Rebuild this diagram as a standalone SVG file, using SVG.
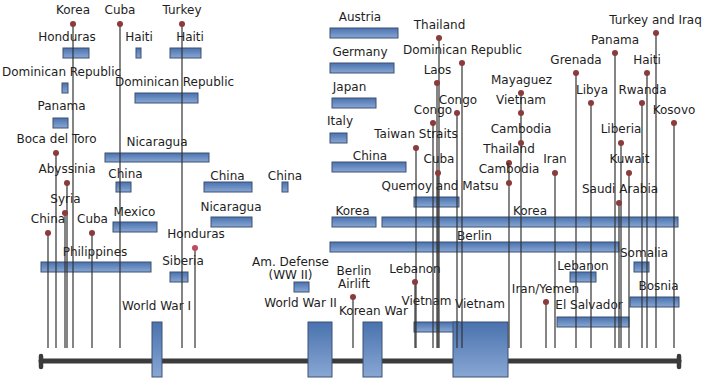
<svg xmlns="http://www.w3.org/2000/svg" width="710" height="386" viewBox="0 0 710 386">
<defs>
<linearGradient id="g" x1="0" y1="0" x2="0" y2="1">
<stop offset="0" stop-color="#4a72ae"/>
<stop offset="1" stop-color="#88a7d4"/>
</linearGradient>
<style>
.bar{fill:url(#g);stroke:#3d5170;stroke-width:1}
.lbl{font-family:"DejaVu Sans",sans-serif;font-size:12px;fill:#1e1e1e;text-anchor:middle}
.dot{fill:#8a3b3b}
.pin{stroke:#333;stroke-width:1.2;fill:none}
.axis{stroke:#3b3b3b;stroke-linecap:round;fill:none}
</style>
</defs>
<rect width="710" height="386" fill="#fff"/>

<g id="axis">
<line class="axis" x1="41" y1="361" x2="679" y2="361" stroke-width="5"/>
<line class="axis" x1="41" y1="356" x2="41" y2="367" stroke-width="4.5"/>
<line class="axis" x1="679" y1="356" x2="679" y2="367" stroke-width="4.5"/>
</g>

<!-- bars -->
<g id="b-honduras"><rect class="bar" x="63" y="48" width="26" height="10"/><text class="lbl" x="67" y="41">Honduras</text></g>
<g id="b-haiti1"><rect class="bar" x="136" y="48" width="5" height="10"/><text class="lbl" x="139" y="41">Haiti</text></g>
<g id="b-haiti2"><rect class="bar" x="170" y="48" width="31" height="10"/><text class="lbl" x="190" y="41">Haiti</text></g>
<g id="b-domrep1"><rect class="bar" x="62" y="83" width="6" height="10"/><text class="lbl" x="61.5" y="76">Dominican Republic</text></g>
<g id="b-domrep2"><rect class="bar" x="135" y="93" width="63" height="10"/><text class="lbl" x="174.5" y="86">Dominican Republic</text></g>
<g id="b-panama"><rect class="bar" x="53" y="118" width="15" height="10"/><text class="lbl" x="61.5" y="110">Panama</text></g>
<g id="b-nicaragua1"><rect class="bar" x="105" y="153" width="104" height="9"/><text class="lbl" x="157" y="146">Nicaragua</text></g>
<g id="b-china1"><rect class="bar" x="116" y="182" width="15" height="10"/><text class="lbl" x="125.5" y="178">China</text></g>
<g id="b-mexico"><rect class="bar" x="113" y="222" width="44" height="10"/><text class="lbl" x="134.5" y="216">Mexico</text></g>
<g id="b-philippines"><rect class="bar" x="41" y="262" width="110" height="10"/><text class="lbl" x="95" y="256">Philippines</text></g>
<g id="b-siberia"><rect class="bar" x="170" y="272" width="18" height="10"/><text class="lbl" x="183" y="265">Siberia</text></g>
<g id="b-ww1"><rect class="bar" x="152" y="322" width="10" height="55"/><text class="lbl" x="156.5" y="310">World War I</text></g>
<g id="b-china2"><rect class="bar" x="204" y="182" width="48" height="10"/><text class="lbl" x="227.5" y="180">China</text></g>
<g id="b-china3"><rect class="bar" x="282" y="182" width="6" height="10"/><text class="lbl" x="285" y="180">China</text></g>
<g id="b-nicaragua2"><rect class="bar" x="211" y="217" width="41" height="10"/><text class="lbl" x="231" y="211">Nicaragua</text></g>
<g id="b-amdefense"><rect class="bar" x="294" y="282" width="15" height="10"/><text class="lbl" x="290.5" y="266">Am. Defense</text><text class="lbl" x="290.5" y="279">(WW II)</text></g>
<g id="b-ww2"><rect class="bar" x="308" y="322" width="24" height="55"/><text class="lbl" x="300.5" y="307">World War II</text></g>
<g id="b-austria"><rect class="bar" x="330" y="28" width="68" height="10"/><text class="lbl" x="360" y="21">Austria</text></g>
<g id="b-germany"><rect class="bar" x="330" y="63" width="64" height="10"/><text class="lbl" x="360" y="56">Germany</text></g>
<g id="b-japan"><rect class="bar" x="332" y="98" width="44" height="10"/><text class="lbl" x="349.5" y="91">Japan</text></g>
<g id="b-italy"><rect class="bar" x="330" y="133" width="17" height="10"/><text class="lbl" x="340" y="125">Italy</text></g>
<g id="b-china4"><rect class="bar" x="332" y="162" width="74" height="10"/><text class="lbl" x="370" y="160">China</text></g>
<g id="b-korea1"><rect class="bar" x="332" y="217" width="44" height="10"/><text class="lbl" x="352.5" y="215">Korea</text></g>
<g id="b-quemoy"><rect class="bar" x="414" y="197" width="45" height="10"/><text class="lbl" x="440" y="190">Quemoy and Matsu</text></g>
<g id="b-korea2"><rect class="bar" x="382" y="217" width="296" height="10"/><text class="lbl" x="530" y="215">Korea</text></g>
<g id="b-berlin"><rect class="bar" x="330" y="242" width="289" height="10"/><text class="lbl" x="474.5" y="240">Berlin</text></g>
<g id="b-koreanwar"><rect class="bar" x="363" y="322" width="19" height="55"/><text class="lbl" x="373.5" y="315">Korean War</text></g>
<g id="b-vietnam1"><rect class="bar" x="414" y="322" width="45" height="10"/><text class="lbl" x="426.5" y="305">Vietnam</text></g>
<g id="b-vietnam2"><rect class="bar" x="453" y="322" width="55" height="55"/><text class="lbl" x="480" y="308">Vietnam</text></g>
<g id="b-somalia"><rect class="bar" x="634" y="262" width="15" height="10"/><text class="lbl" x="644" y="257">Somalia</text></g>
<g id="b-lebanon"><rect class="bar" x="570" y="272" width="26" height="10"/><text class="lbl" x="583" y="270">Lebanon</text></g>
<g id="b-bosnia"><rect class="bar" x="630" y="297" width="49" height="10"/><text class="lbl" x="658.5" y="290">Bosnia</text></g>
<g id="b-elsalvador"><rect class="bar" x="557" y="317" width="72" height="10"/><text class="lbl" x="589" y="309">El Salvador</text></g>

<!-- connectors (pin lines) -->
<g id="connectors" class="pin">
<line x1="73" y1="24" x2="73" y2="348"/>
<line x1="120" y1="24" x2="120" y2="348"/>
<line x1="182" y1="24" x2="182" y2="348"/>
<line x1="56" y1="153" x2="56" y2="348"/>
<line x1="67" y1="183" x2="67" y2="348"/>
<line x1="65" y1="213" x2="65" y2="348"/>
<line x1="48" y1="233" x2="48" y2="348"/>
<line x1="92" y1="233" x2="92" y2="348"/>
<line x1="195" y1="248" x2="195" y2="348"/>
<line x1="353" y1="297" x2="353" y2="348"/>
<line x1="415" y1="282" x2="415" y2="348"/>
<line x1="439" y1="38" x2="439" y2="348"/>
<line x1="462" y1="63" x2="462" y2="348"/>
<line x1="437" y1="83" x2="437" y2="348"/>
<line x1="457" y1="113" x2="457" y2="348"/>
<line x1="433" y1="123" x2="433" y2="348"/>
<line x1="521" y1="93" x2="521" y2="348"/>
<line x1="416" y1="148" x2="416" y2="348"/>
<line x1="438" y1="173" x2="438" y2="348"/>
<line x1="509" y1="163" x2="509" y2="348"/>
<line x1="555" y1="173" x2="555" y2="348"/>
<line x1="576" y1="73" x2="576" y2="348"/>
<line x1="615" y1="53" x2="615" y2="348"/>
<line x1="656" y1="33" x2="656" y2="348"/>
<line x1="591" y1="103" x2="591" y2="348"/>
<line x1="642" y1="103" x2="642" y2="348"/>
<line x1="647" y1="73" x2="647" y2="348"/>
<line x1="674" y1="123" x2="674" y2="348"/>
<line x1="621" y1="143" x2="621" y2="348"/>
<line x1="629" y1="173" x2="629" y2="348"/>
<line x1="619" y1="203" x2="619" y2="348"/>
<line x1="546" y1="302" x2="546" y2="348"/>
</g>

<!-- pin nodes -->
<g id="p-korea"><circle class="dot" cx="73" cy="24" r="3"/><text class="lbl" x="73" y="14">Korea</text></g>
<g id="p-cuba1"><circle class="dot" cx="120" cy="24" r="3"/><text class="lbl" x="120" y="14">Cuba</text></g>
<g id="p-turkey"><circle class="dot" cx="182" cy="24" r="3"/><text class="lbl" x="182" y="14">Turkey</text></g>
<g id="p-boca"><circle class="dot" cx="56" cy="153" r="3"/><text class="lbl" x="56.5" y="143">Boca del Toro</text></g>
<g id="p-abyssinia"><circle class="dot" cx="67" cy="183" r="3"/><text class="lbl" x="67" y="173">Abyssinia</text></g>
<g id="p-syria"><circle class="dot" cx="65" cy="213" r="3"/><text class="lbl" x="65.5" y="203">Syria</text></g>
<g id="p-china"><circle class="dot" cx="48" cy="233" r="3"/><text class="lbl" x="48" y="223">China</text></g>
<g id="p-cuba2"><circle class="dot" cx="92" cy="233" r="3"/><text class="lbl" x="92.5" y="223">Cuba</text></g>
<g id="p-honduras"><circle class="dot" cx="195" cy="248" r="3" fill="#c04a5e" style="fill:#c04a5e"/><text class="lbl" x="196" y="238">Honduras</text></g>
<g id="p-berlinairlift"><circle class="dot" cx="353" cy="297" r="3"/><text class="lbl" x="354" y="275">Berlin</text><text class="lbl" x="354" y="288">Airlift</text></g>
<g id="p-lebanon"><circle class="dot" cx="415" cy="282" r="3"/><text class="lbl" x="415" y="273">Lebanon</text></g>
<g id="p-thailand1"><circle class="dot" cx="439" cy="38" r="3"/><text class="lbl" x="439.5" y="29">Thailand</text></g>
<g id="p-domrep"><circle class="dot" cx="462" cy="63" r="3"/><text class="lbl" x="462.5" y="54">Dominican Republic</text></g>
<g id="p-laos"><circle class="dot" cx="437" cy="83" r="3"/><text class="lbl" x="437.5" y="74">Laos</text></g>
<g id="p-congo1"><circle class="dot" cx="457" cy="113" r="3"/><text class="lbl" x="458" y="104">Congo</text></g>
<g id="p-congo2"><circle class="dot" cx="433" cy="123" r="3"/><text class="lbl" x="433" y="114">Congo</text></g>
<g id="p-mayaguez"><circle class="dot" cx="521" cy="93" r="3"/><text class="lbl" x="521.5" y="84">Mayaguez</text></g>
<g id="p-vietnam"><circle class="dot" cx="521" cy="113" r="3"/><text class="lbl" x="521" y="104">Vietnam</text></g>
<g id="p-taiwan"><circle class="dot" cx="416" cy="148" r="3"/><text class="lbl" x="416" y="138">Taiwan Straits</text></g>
<g id="p-cuba3"><circle class="dot" cx="438" cy="173" r="3"/><text class="lbl" x="439" y="163">Cuba</text></g>
<g id="p-cambodia1"><circle class="dot" cx="521" cy="143" r="3"/><text class="lbl" x="521" y="133">Cambodia</text></g>
<g id="p-thailand2"><circle class="dot" cx="509" cy="163" r="3"/><text class="lbl" x="509" y="153">Thailand</text></g>
<g id="p-cambodia2"><circle class="dot" cx="509" cy="183" r="3"/><text class="lbl" x="509" y="173">Cambodia</text></g>
<g id="p-iran"><circle class="dot" cx="555" cy="173" r="3"/><text class="lbl" x="555" y="163">Iran</text></g>
<g id="p-grenada"><circle class="dot" cx="576" cy="73" r="3"/><text class="lbl" x="576" y="64">Grenada</text></g>
<g id="p-panama"><circle class="dot" cx="615" cy="53" r="3"/><text class="lbl" x="615" y="44">Panama</text></g>
<g id="p-turkeyiraq"><circle class="dot" cx="656" cy="33" r="3"/><text class="lbl" x="655.5" y="24">Turkey and Iraq</text></g>
<g id="p-libya"><circle class="dot" cx="591" cy="103" r="3"/><text class="lbl" x="592" y="94">Libya</text></g>
<g id="p-rwanda"><circle class="dot" cx="642" cy="103" r="3"/><text class="lbl" x="642.5" y="94">Rwanda</text></g>
<g id="p-haiti"><circle class="dot" cx="647" cy="73" r="3"/><text class="lbl" x="647" y="64">Haiti</text></g>
<g id="p-kosovo"><circle class="dot" cx="674" cy="123" r="3"/><text class="lbl" x="674" y="114">Kosovo</text></g>
<g id="p-liberia"><circle class="dot" cx="621" cy="143" r="3"/><text class="lbl" x="621" y="133">Liberia</text></g>
<g id="p-kuwait"><circle class="dot" cx="629" cy="173" r="3"/><text class="lbl" x="629.5" y="163">Kuwait</text></g>
<g id="p-saudi"><circle class="dot" cx="619" cy="203" r="3"/><text class="lbl" x="620" y="193">Saudi Arabia</text></g>
<g id="p-iranyemen"><circle class="dot" cx="546" cy="302" r="3"/><text class="lbl" x="545.5" y="293">Iran/Yemen</text></g>
</svg>
